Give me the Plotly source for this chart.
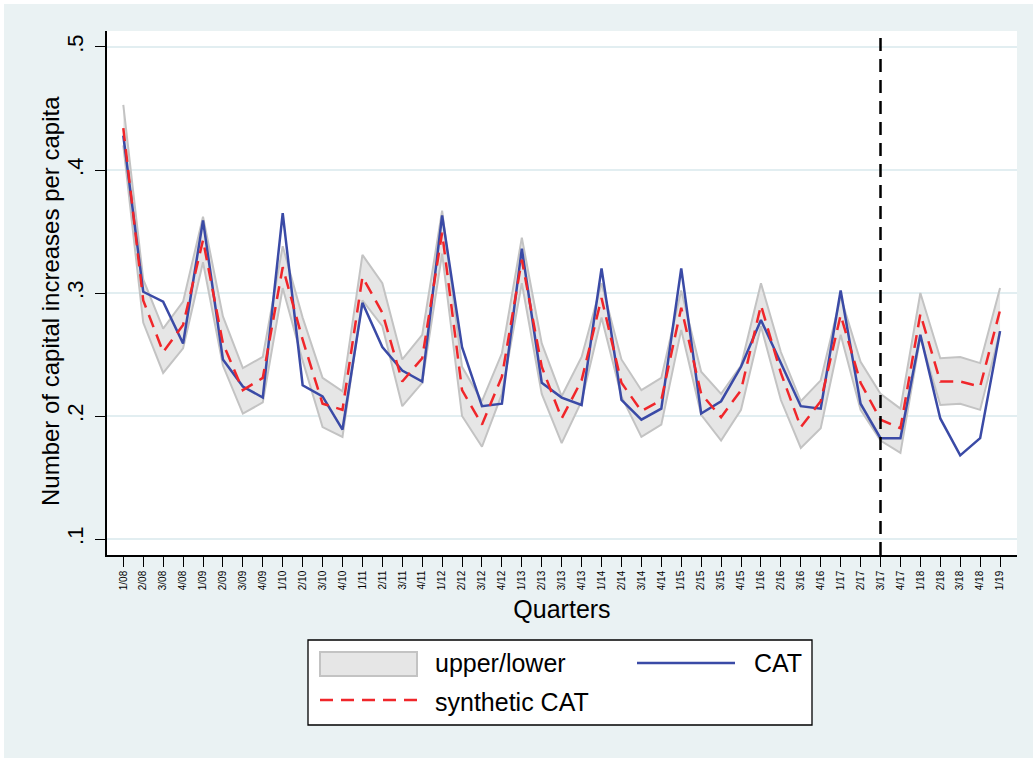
import plotly.graph_objects as go

quarters = ["1/08", "2/08", "3/08", "4/08", "1/09", "2/09", "3/09", "4/09",
            "1/10", "2/10", "3/10", "4/10", "1/11", "2/11", "3/11", "4/11",
            "1/12", "2/12", "3/12", "4/12", "1/13", "2/13", "3/13", "4/13",
            "1/14", "2/14", "3/14", "4/14", "1/15", "2/15", "3/15", "4/15",
            "1/16", "2/16", "3/16", "4/16", "1/17", "2/17", "3/17", "4/17",
            "1/18", "2/18", "3/18", "4/18", "1/19"]

cat = [0.428, 0.301, 0.293, 0.259, 0.359, 0.246, 0.224, 0.215,
       0.365, 0.225, 0.216, 0.189, 0.292, 0.256, 0.237, 0.228,
       0.363, 0.256, 0.208, 0.210, 0.336, 0.227, 0.215, 0.209,
       0.320, 0.213, 0.197, 0.206, 0.320, 0.202, 0.212, 0.240,
       0.278, 0.243, 0.208, 0.206, 0.302, 0.210, 0.182, 0.182,
       0.266, 0.198, 0.168, 0.182, 0.269]

synthetic = [0.434, 0.294, 0.252, 0.274, 0.343, 0.259, 0.221, 0.231,
             0.321, 0.262, 0.210, 0.205, 0.313, 0.284, 0.228, 0.247,
             0.349, 0.221, 0.193, 0.232, 0.327, 0.240, 0.198, 0.229,
             0.296, 0.227, 0.204, 0.213, 0.288, 0.218, 0.199, 0.221,
             0.290, 0.235, 0.191, 0.212, 0.282, 0.227, 0.197, 0.190,
             0.283, 0.228, 0.228, 0.224, 0.286]

upper = [0.453, 0.311, 0.271, 0.293, 0.362, 0.281, 0.239, 0.248,
         0.338, 0.280, 0.231, 0.220, 0.331, 0.308, 0.246, 0.266,
         0.367, 0.240, 0.212, 0.251, 0.345, 0.259, 0.216, 0.248,
         0.308, 0.246, 0.221, 0.231, 0.302, 0.236, 0.218, 0.241,
         0.308, 0.252, 0.212, 0.229, 0.297, 0.244, 0.218, 0.206,
         0.300, 0.247, 0.248, 0.243, 0.304]

lower = [0.420, 0.276, 0.235, 0.255, 0.325, 0.241, 0.202, 0.211,
         0.304, 0.245, 0.191, 0.183, 0.294, 0.273, 0.208, 0.227,
         0.332, 0.200, 0.175, 0.218, 0.308, 0.218, 0.178, 0.212,
         0.280, 0.216, 0.183, 0.193, 0.270, 0.201, 0.180, 0.205,
         0.273, 0.213, 0.174, 0.190, 0.266, 0.205, 0.180, 0.170,
         0.264, 0.209, 0.210, 0.205, 0.269]

treatment_quarter = "3/17"
y_ticks = [0.1, 0.2, 0.3, 0.4, 0.5]
y_tick_text = [".1", ".2", ".3", ".4", ".5"]

x = list(range(len(quarters)))
FONT = "Arial, Liberation Sans, sans-serif"
BG = "#eaf2f3"
BAND_FILL = "#e6e6e6"
BAND_LINE = "#c3c3c3"
BLUE = "#3a4aa6"
RED = "#f0262a"

W, H = 1033, 758
L, R, T, B = 107, 16, 31, 203
PW, PH = W - L - R, H - T - B


def px(v):
    return (v - L) / PW


def py(v):
    return (H - B - v) / PH


fig = go.Figure()
fig.add_trace(go.Scatter(x=x, y=upper, mode="lines",
                         line=dict(color=BAND_LINE, width=2),
                         showlegend=False, hoverinfo="skip"))
fig.add_trace(go.Scatter(x=x, y=lower, mode="lines", fill="tonexty",
                         fillcolor=BAND_FILL,
                         line=dict(color=BAND_LINE, width=2),
                         name="upper/lower", showlegend=False))
fig.add_trace(go.Scatter(x=x, y=cat, mode="lines",
                         line=dict(color=BLUE, width=2.5),
                         name="CAT", showlegend=False))
fig.add_trace(go.Scatter(x=x, y=synthetic, mode="lines",
                         line=dict(color=RED, width=2.5, dash="13px,8px"),
                         name="synthetic CAT", showlegend=False))

vx = quarters.index(treatment_quarter)
shapes = [
    dict(type="line", xref="x", yref="paper", x0=vx, x1=vx, y0=0, y1=1,
         line=dict(color="black", width=2.5, dash="13px,8px")),
    # white page strips at left and top
    dict(type="rect", xref="paper", yref="paper", x0=px(0), x1=px(4),
         y0=py(H), y1=py(0), fillcolor="white", line=dict(width=0)),
    dict(type="rect", xref="paper", yref="paper", x0=px(0), x1=px(W),
         y0=py(4), y1=py(0), fillcolor="white", line=dict(width=0)),
    # legend box
    dict(type="rect", xref="paper", yref="paper", x0=px(308), x1=px(812),
         y0=py(725), y1=py(640), fillcolor="white",
         line=dict(color="black", width=1.3)),
    dict(type="rect", xref="paper", yref="paper", x0=px(320), x1=px(417),
         y0=py(676), y1=py(652), fillcolor=BAND_FILL,
         line=dict(color=BAND_LINE, width=2)),
    dict(type="line", xref="paper", yref="paper", x0=px(637), x1=px(735),
         y0=py(663), y1=py(663), line=dict(color=BLUE, width=2.5)),
    dict(type="line", xref="paper", yref="paper", x0=px(320), x1=px(417),
         y0=py(700), y1=py(700),
         line=dict(color=RED, width=2.5, dash="13px,8px")),
]

annotations = [
    dict(text="upper/lower", x=px(433), y=py(663)),
    dict(text="CAT", x=px(752), y=py(663)),
    dict(text="synthetic CAT", x=px(433), y=py(702)),
]
annotations = [dict(a, xref="paper", yref="paper", xanchor="left",
                    yanchor="middle", showarrow=False,
                    font=dict(family=FONT, size=25, color="black"))
               for a in annotations]
annotations.append(dict(
    text="Number of capital increases per capita", textangle=-90,
    xref="paper", yref="paper", x=px(50), y=py(301),
    xanchor="center", yanchor="middle", showarrow=False,
    font=dict(family=FONT, size=24, color="black")))

fig.update_layout(
    width=W, height=H,
    margin=dict(l=L, r=R, t=T, b=B, pad=0),
    paper_bgcolor=BG, plot_bgcolor="white",
    font=dict(family=FONT, color="black"),
    shapes=shapes, annotations=annotations,
    showlegend=False,
)
fig.update_xaxes(
    range=[-0.818, 44.85], tickmode="array", tickvals=x, ticktext=quarters,
    tickangle=-90, tickfont=dict(size=10), ticks="outside", ticklen=10,
    tickwidth=1.3, tickcolor="black", showline=True, linecolor="black",
    linewidth=1.5, showgrid=False, zeroline=False,
    title=dict(text="Quarters", font=dict(size=25), standoff=11),
)
fig.update_yaxes(
    range=[0.087, 0.513], tickmode="array", tickvals=y_ticks,
    ticktext=y_tick_text, tickangle=-90, tickfont=dict(size=22),
    ticks="outside", ticklen=10, tickwidth=1.3, tickcolor="black",
    ticklabelstandoff=3,
    showline=True, linecolor="black", linewidth=1.5,
    showgrid=True, gridcolor="#e2eef1", gridwidth=1.5, zeroline=False,
)

fig.write_html("out.html")
